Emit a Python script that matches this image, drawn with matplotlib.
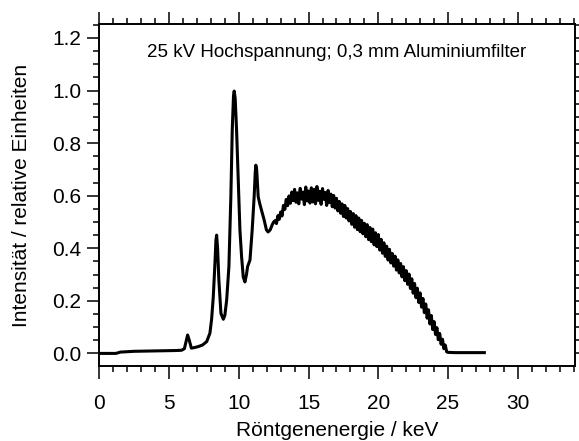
import matplotlib
matplotlib.use("Agg")
from matplotlib import pyplot as plt
from matplotlib.ticker import MultipleLocator

plt.rcParams['font.family'] = ['Liberation Sans', 'DejaVu Sans']

# smooth part of the spectrum (lines region)
e_low = [0.0, 1.2, 1.5, 2.5, 3.5, 4.5, 5.5, 5.9, 6.1, 6.22, 6.33, 6.45, 6.6, 6.8,
         7.1, 7.4, 7.7, 7.93, 8.05, 8.17, 8.29, 8.36, 8.41, 8.48, 8.57, 8.72, 8.89,
         9.0, 9.13, 9.29, 9.43, 9.53, 9.62, 9.67, 9.74, 9.84, 9.96, 10.08, 10.2,
         10.32, 10.44, 10.55, 10.63, 10.8, 10.96, 11.1, 11.18, 11.22, 11.28, 11.39,
         11.5, 11.63, 11.82, 11.98, 12.1, 12.25, 12.4, 12.5]
i_low = [0.0, 0.0, 0.005, 0.008, 0.009, 0.010, 0.011, 0.012, 0.018, 0.045, 0.07,
         0.05, 0.02, 0.022, 0.026, 0.032, 0.045, 0.077, 0.13, 0.215, 0.343, 0.43,
         0.45, 0.40, 0.28, 0.152, 0.13, 0.145, 0.203, 0.33, 0.596, 0.85, 0.98, 0.998,
         0.97, 0.85, 0.66, 0.47, 0.368, 0.29, 0.272, 0.30, 0.33, 0.355, 0.47, 0.596,
         0.69, 0.716, 0.70, 0.596, 0.57, 0.545, 0.507, 0.47, 0.462, 0.47, 0.49, 0.50]

# noisy bremsstrahlung continuum, 0.1 keV channels
e_cont = [12.6, 12.7, 12.8, 12.9, 13.0, 13.1, 13.2, 13.3, 13.4, 13.5, 13.6, 13.7,
          13.8, 13.9, 14.0, 14.1, 14.2, 14.3, 14.4, 14.5, 14.6, 14.7, 14.8, 14.9,
          15.0, 15.1, 15.2, 15.3, 15.4, 15.5, 15.6, 15.7, 15.8, 15.9, 16.0, 16.1,
          16.2, 16.3, 16.4, 16.5, 16.6, 16.7, 16.8, 16.9, 17.0, 17.1, 17.2, 17.3,
          17.4, 17.5, 17.6, 17.7, 17.8, 17.9, 18.0, 18.1, 18.2, 18.3, 18.4, 18.5,
          18.6, 18.7, 18.8, 18.9, 19.0, 19.1, 19.2, 19.3, 19.4, 19.5, 19.6, 19.7,
          19.8, 19.9, 20.0, 20.1, 20.2, 20.3, 20.4, 20.5, 20.6, 20.7, 20.8, 20.9,
          21.0, 21.1, 21.2, 21.3, 21.4, 21.5, 21.6, 21.7, 21.8, 21.9, 22.0, 22.1,
          22.2, 22.3, 22.4, 22.5, 22.6, 22.7, 22.8, 22.9, 23.0, 23.1, 23.2, 23.3,
          23.4, 23.5, 23.6, 23.7, 23.8, 23.9, 24.0, 24.1, 24.2, 24.3, 24.4, 24.5,
          24.6, 24.7, 24.8, 24.9, 25.0, 25.5, 26.5, 27.6]
i_cont = [0.505, 0.494, 0.524, 0.510, 0.538, 0.523, 0.563, 0.548, 0.586, 0.562,
          0.599, 0.571, 0.614, 0.581, 0.624, 0.575, 0.611, 0.569, 0.628, 0.587,
          0.614, 0.566, 0.633, 0.580, 0.618, 0.572, 0.630, 0.576, 0.624, 0.569,
          0.635, 0.582, 0.617, 0.567, 0.627, 0.586, 0.612, 0.563, 0.620, 0.574,
          0.606, 0.558, 0.601, 0.553, 0.590, 0.542, 0.578, 0.533, 0.569, 0.521,
          0.563, 0.515, 0.551, 0.504, 0.540, 0.491, 0.532, 0.480, 0.524, 0.471,
          0.515, 0.463, 0.506, 0.455, 0.495, 0.444, 0.490, 0.433, 0.479, 0.425,
          0.473, 0.413, 0.459, 0.406, 0.452, 0.393, 0.434, 0.381, 0.421, 0.369,
          0.408, 0.355, 0.396, 0.344, 0.380, 0.332, 0.370, 0.317, 0.356, 0.306,
          0.342, 0.291, 0.330, 0.277, 0.315, 0.263, 0.302, 0.247, 0.284, 0.229,
          0.266, 0.212, 0.248, 0.194, 0.230, 0.176, 0.209, 0.155, 0.188, 0.134,
          0.166, 0.112, 0.144, 0.091, 0.121, 0.072, 0.098, 0.052, 0.076, 0.035,
          0.054, 0.018, 0.032, 0.006, 0.004, 0.003, 0.003, 0.003]

energy = e_low + e_cont
intensity = i_low + i_cont

fig = plt.figure(figsize=(5.79, 4.41), dpi=100)
ax = fig.add_axes([0.1715, 0.170, 0.8216, 0.7755])

ax.plot(energy, intensity, color="k", linewidth=2.2)

ax.set_xlim(0, 34.1)
ax.set_ylim(-0.048, 1.253)
ax.xaxis.set_major_locator(MultipleLocator(5))
ax.xaxis.set_minor_locator(MultipleLocator(1))
ax.yaxis.set_major_locator(MultipleLocator(0.2))
ax.yaxis.set_minor_locator(MultipleLocator(0.05))
ax.yaxis.set_major_formatter(lambda v, p: f"{v:.1f}")

for s in ax.spines.values():
    s.set_linewidth(1.4)
ax.tick_params(which="both", direction="out", top=True, right=True,
               width=1.1, labelsize=15, colors="k")
ax.tick_params(which="major", length=9)
ax.tick_params(which="minor", length=4.5)
ax.tick_params(axis="x", which="major", pad=11)
ax.tick_params(axis="y", which="major", pad=4)

ax.set_xlabel("Röntgenenergie / keV", fontsize=15, labelpad=6)
ax.set_ylabel("Intensität / relative Einheiten", fontsize=15, labelpad=15)

ax.text(17.0, 1.146, "25 kV Hochspannung; 0,3 mm Aluminiumfilter",
        ha="center", va="center", fontsize=13.5)

fig.savefig("out.png", dpi=100)
